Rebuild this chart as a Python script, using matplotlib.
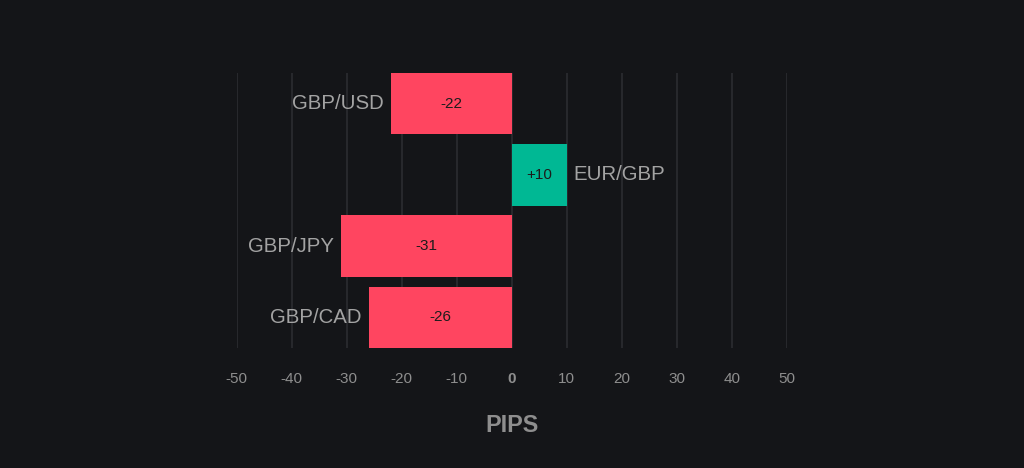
import matplotlib
matplotlib.use("Agg")
import matplotlib.pyplot as plt

pairs = ["GBP/USD", "EUR/GBP", "GBP/JPY", "GBP/CAD"]
pips = [-22, 10, -31, -26]
ticks = [-50, -40, -30, -20, -10, 0, 10, 20, 30, 40, 50]

BG = "#141518"
RED = "#FF4560"
GREEN = "#00B894"
GRID = "#2c2d31"
LABEL = "#a3a3a3"
TICK = "#8e8e8e"

plt.rcParams['font.family'] = ['Liberation Sans', 'DejaVu Sans']

fig = plt.figure(figsize=(10.24, 4.68), dpi=100, facecolor=BG)
ax = fig.add_axes([236.5/1024, 1-348/468, 550.5/1024, 275/468])
ax.set_facecolor(BG)

h = 0.86
ypos = list(range(len(pairs)))
colors = [GREEN if v > 0 else RED for v in pips]
bars = ax.barh(ypos, pips, height=h, color=colors, zorder=3)

for y, v, name in zip(ypos, pips, pairs):
    txt = f"+{v}" if v > 0 else f"{v}"
    ax.text(v/2, y, txt, ha="center", va="center", fontsize=11, color="#1c1c1c", zorder=4)
    if v < 0:
        ax.annotate(name, (v, y), xytext=(-5, 0), textcoords="offset points",
                    ha="right", va="center", fontsize=14.7, color=LABEL)
    else:
        ax.annotate(name, (v, y), xytext=(5, 0), textcoords="offset points",
                    ha="left", va="center", fontsize=14.7, color=LABEL)

ax.set_xlim(-50, 50)
ax.set_ylim(len(pairs) - 1 + h/2, -h/2)
ax.set_xticks(ticks)
ax.set_xticklabels([str(t) for t in ticks])
for lbl, t in zip(ax.get_xticklabels(), ticks):
    lbl.set_color(TICK)
    lbl.set_fontsize(11)
    if t == 0:
        lbl.set_fontweight("bold")
ax.tick_params(axis="x", length=0, pad=17)
ax.set_yticks([])
for s in ax.spines.values():
    s.set_visible(False)
ax.grid(axis="x", color=GRID, linewidth=1.2, zorder=0)
ax.grid(axis="y", visible=False)

fig.text(512/1024, 1-425/468, "PIPS", ha="center", va="center",
         fontsize=16.8, fontweight="bold", color=TICK)

fig.savefig("out.png", dpi=100, facecolor=BG)
